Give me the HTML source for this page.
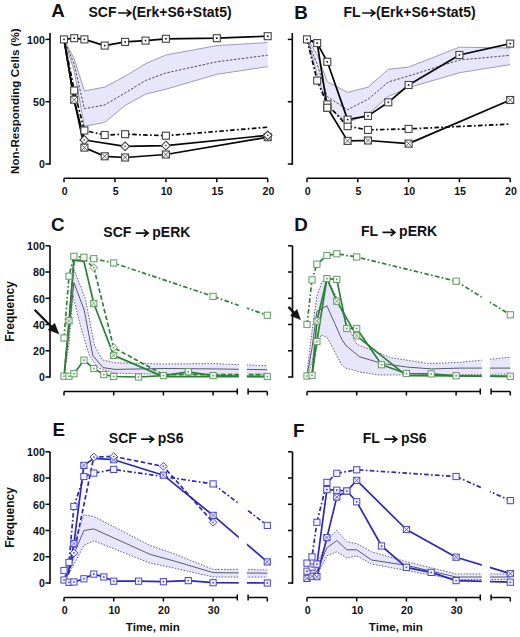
<!DOCTYPE html><html><head><meta charset="utf-8"><style>html,body{margin:0;padding:0;background:#fff;width:520px;height:637px;overflow:hidden;position:relative}</style></head><body><svg width="520" height="637" viewBox="0 0 520 637" style="position:absolute;left:0;top:0;font-family:'Liberation Sans', sans-serif">
<rect width="520" height="637" fill="#fff"/>
<path d="M64.0,39.4 L74.2,58.8 L84.4,91.0 L104.7,87.1 L125.1,76.3 L145.5,63.8 L165.9,55.0 L216.8,45.6 L267.7,42.6 L267.7,66.6 L216.8,74.3 L165.9,89.2 L145.5,94.2 L125.1,105.4 L104.7,122.4 L84.4,126.2 L74.2,70.5 L64.0,39.4 Z" fill="#e7e6fb" stroke="none"/>
<path d="M64.0,39.4 L74.2,58.8 L84.4,91.0 L104.7,87.1 L125.1,76.3 L145.5,63.8 L165.9,55.0 L216.8,45.6 L267.7,42.6" fill="none" stroke="#9c9cb4" stroke-width="1.0" stroke-linejoin="round" />
<path d="M64.0,39.4 L74.2,70.5 L84.4,126.2 L104.7,122.4 L125.1,105.4 L145.5,94.2 L165.9,89.2 L216.8,74.3 L267.7,66.6" fill="none" stroke="#9c9cb4" stroke-width="1.0" stroke-linejoin="round" />
<path d="M64.0,39.4 L74.2,64.3 L84.4,108.8 L104.7,104.9 L125.1,93.0 L145.5,80.5 L165.9,73.0 L216.8,61.8 L267.7,55.2" fill="none" stroke="#4a4a5a" stroke-width="1.0" stroke-dasharray="2.4,1.6" stroke-linejoin="round" />
<path d="M50.0,33 L50.0,164.8" stroke="#050505" stroke-width="1.6" fill="none"/>
<path d="M45.5,164.0 L50.0,164.0" stroke="#050505" stroke-width="1.5"/>
<text x="44.8" y="168.3" font-size="10.6" font-weight="bold" text-anchor="end" fill="#111" >0</text>
<path d="M45.5,101.7 L50.0,101.7" stroke="#050505" stroke-width="1.5"/>
<text x="44.8" y="106.0" font-size="10.6" font-weight="bold" text-anchor="end" fill="#111" >50</text>
<path d="M45.5,39.4 L50.0,39.4" stroke="#050505" stroke-width="1.5"/>
<text x="44.8" y="43.7" font-size="10.6" font-weight="bold" text-anchor="end" fill="#111" >100</text>
<path d="M64.0,178.3 L267.7,178.3" stroke="#050505" stroke-width="1.6" fill="none"/>
<path d="M64.0,178.3 L64.0,182.3" stroke="#050505" stroke-width="1.5"/>
<text x="64.7" y="194.9" font-size="10.6" font-weight="bold" text-anchor="middle" fill="#111" >0</text>
<path d="M114.9,178.3 L114.9,182.3" stroke="#050505" stroke-width="1.5"/>
<text x="115.6" y="194.9" font-size="10.6" font-weight="bold" text-anchor="middle" fill="#111" >5</text>
<path d="M165.9,178.3 L165.9,182.3" stroke="#050505" stroke-width="1.5"/>
<text x="166.6" y="194.9" font-size="10.6" font-weight="bold" text-anchor="middle" fill="#111" >10</text>
<path d="M216.8,178.3 L216.8,182.3" stroke="#050505" stroke-width="1.5"/>
<text x="217.5" y="194.9" font-size="10.6" font-weight="bold" text-anchor="middle" fill="#111" >15</text>
<path d="M267.7,178.3 L267.7,182.3" stroke="#050505" stroke-width="1.5"/>
<text x="268.4" y="194.9" font-size="10.6" font-weight="bold" text-anchor="middle" fill="#111" >20</text>
<path d="M64.0,39.4 L74.2,99.7 L84.4,147.6 L104.7,156.3 L125.1,157.5 L165.9,154.5 L267.7,137.2" fill="none" stroke="#050505" stroke-width="1.7" stroke-linejoin="round" />
<path d="M64.0,39.4 L74.2,100.5 L84.4,140.0 L125.1,146.3 L165.9,145.6 L267.7,135.3" fill="none" stroke="#050505" stroke-width="1.7" stroke-linejoin="round" />
<path d="M64.0,39.4 L74.2,90.5 L84.4,130.5 L104.7,135.0 L125.1,134.2 L165.9,135.7 L267.7,127.2" fill="none" stroke="#050505" stroke-width="1.7" stroke-dasharray="4.6,2.3,1.7,2.3" stroke-linejoin="round" />
<path d="M64.0,39.4 L74.2,38.2 L84.4,39.4 L104.7,45.6 L125.1,41.9 L145.5,40.6 L165.9,38.8 L216.8,38.2 L267.7,36.2" fill="none" stroke="#050505" stroke-width="1.7" stroke-linejoin="round" />
<rect x="70.7" y="96.2" width="7.0" height="7.0" fill="#fff" stroke="#444" stroke-width="1.1"/>
<path d="M70.7,96.2 L77.7,103.2 M77.7,96.2 L70.7,103.2" stroke="#444" stroke-width="0.8"/>
<rect x="80.9" y="144.1" width="7.0" height="7.0" fill="#fff" stroke="#444" stroke-width="1.1"/>
<path d="M80.9,144.1 L87.9,151.1 M87.9,144.1 L80.9,151.1" stroke="#444" stroke-width="0.8"/>
<rect x="101.2" y="152.8" width="7.0" height="7.0" fill="#fff" stroke="#444" stroke-width="1.1"/>
<path d="M101.2,152.8 L108.2,159.8 M108.2,152.8 L101.2,159.8" stroke="#444" stroke-width="0.8"/>
<rect x="121.6" y="154.0" width="7.0" height="7.0" fill="#fff" stroke="#444" stroke-width="1.1"/>
<path d="M121.6,154.0 L128.6,161.0 M128.6,154.0 L121.6,161.0" stroke="#444" stroke-width="0.8"/>
<rect x="162.4" y="151.0" width="7.0" height="7.0" fill="#fff" stroke="#444" stroke-width="1.1"/>
<path d="M162.4,151.0 L169.4,158.0 M169.4,151.0 L162.4,158.0" stroke="#444" stroke-width="0.8"/>
<rect x="264.2" y="133.7" width="7.0" height="7.0" fill="#fff" stroke="#444" stroke-width="1.1"/>
<path d="M264.2,133.7 L271.2,140.7 M271.2,133.7 L264.2,140.7" stroke="#444" stroke-width="0.8"/>
<path d="M84.4,135.6 L88.7,140.0 L84.4,144.3 L80.0,140.0 Z" fill="#fff" stroke="#444" stroke-width="1.1"/>
<rect x="83.6" y="139.2" width="1.5" height="1.5" fill="#444"/>
<path d="M125.1,142.0 L129.4,146.3 L125.1,150.6 L120.8,146.3 Z" fill="#fff" stroke="#444" stroke-width="1.1"/>
<rect x="124.4" y="145.6" width="1.5" height="1.5" fill="#444"/>
<path d="M165.9,141.2 L170.2,145.6 L165.9,149.9 L161.5,145.6 Z" fill="#fff" stroke="#444" stroke-width="1.1"/>
<rect x="165.1" y="144.8" width="1.5" height="1.5" fill="#444"/>
<path d="M267.7,131.0 L272.0,135.3 L267.7,139.7 L263.4,135.3 Z" fill="#fff" stroke="#444" stroke-width="1.1"/>
<rect x="267.0" y="134.6" width="1.5" height="1.5" fill="#444"/>
<rect x="70.7" y="87.0" width="7.0" height="7.0" fill="#fff" stroke="#444" stroke-width="1.1"/>
<rect x="80.9" y="127.0" width="7.0" height="7.0" fill="#fff" stroke="#444" stroke-width="1.1"/>
<rect x="101.2" y="131.5" width="7.0" height="7.0" fill="#fff" stroke="#444" stroke-width="1.1"/>
<rect x="121.6" y="130.7" width="7.0" height="7.0" fill="#fff" stroke="#444" stroke-width="1.1"/>
<rect x="162.4" y="132.2" width="7.0" height="7.0" fill="#fff" stroke="#444" stroke-width="1.1"/>
<rect x="60.5" y="35.9" width="7.0" height="7.0" fill="#fff" stroke="#444" stroke-width="1.1"/>
<rect x="63.2" y="38.6" width="1.6" height="1.6" fill="#111"/>
<rect x="70.7" y="34.7" width="7.0" height="7.0" fill="#fff" stroke="#444" stroke-width="1.1"/>
<rect x="73.4" y="37.4" width="1.6" height="1.6" fill="#111"/>
<rect x="80.9" y="35.9" width="7.0" height="7.0" fill="#fff" stroke="#444" stroke-width="1.1"/>
<rect x="83.6" y="38.6" width="1.6" height="1.6" fill="#111"/>
<rect x="101.2" y="42.1" width="7.0" height="7.0" fill="#fff" stroke="#444" stroke-width="1.1"/>
<rect x="103.9" y="44.8" width="1.6" height="1.6" fill="#111"/>
<rect x="121.6" y="38.4" width="7.0" height="7.0" fill="#fff" stroke="#444" stroke-width="1.1"/>
<rect x="124.3" y="41.1" width="1.6" height="1.6" fill="#111"/>
<rect x="142.0" y="37.1" width="7.0" height="7.0" fill="#fff" stroke="#444" stroke-width="1.1"/>
<rect x="144.7" y="39.8" width="1.6" height="1.6" fill="#111"/>
<rect x="162.4" y="35.3" width="7.0" height="7.0" fill="#fff" stroke="#444" stroke-width="1.1"/>
<rect x="165.1" y="38.0" width="1.6" height="1.6" fill="#111"/>
<rect x="213.3" y="34.7" width="7.0" height="7.0" fill="#fff" stroke="#444" stroke-width="1.1"/>
<rect x="216.0" y="37.4" width="1.6" height="1.6" fill="#111"/>
<rect x="264.2" y="32.7" width="7.0" height="7.0" fill="#fff" stroke="#444" stroke-width="1.1"/>
<rect x="266.9" y="35.4" width="1.6" height="1.6" fill="#111"/>
<text x="51.3" y="17.3" font-size="18.8" font-weight="bold" text-anchor="start" fill="#111" >A</text>
<text x="88.5" y="16.9" font-size="14" font-weight="bold" text-anchor="start" fill="#111" >SCF</text>
<path d="M118.2,13.0 H130.1 M126.6,9.6 L130.9,13.0 L126.6,16.4" stroke="#111" stroke-width="1.7" fill="none"/>
<text x="132.1" y="16.9" font-size="14" font-weight="bold" text-anchor="start" fill="#111" >(Erk+S6+Stat5)</text>
<text x="19.3" y="101.2" font-size="11.6" font-weight="bold" text-anchor="middle" fill="#111" transform="rotate(-90 19.3 101.2)">Non-Responding Cells (%)</text>
<path d="M307.0,39.4 L317.2,54.4 L327.3,81.8 L347.6,92.4 L368.0,87.2 L388.3,69.3 L408.6,67.1 L459.4,47.2 L510.2,48.0 L510.2,64.6 L459.4,72.7 L408.6,87.7 L388.3,96.5 L368.0,114.3 L347.6,122.4 L327.3,106.7 L317.2,74.3 L307.0,39.4 Z" fill="#e7e6fb" stroke="none"/>
<path d="M307.0,39.4 L317.2,54.4 L327.3,81.8 L347.6,92.4 L368.0,87.2 L388.3,69.3 L408.6,67.1 L459.4,47.2 L510.2,48.0" fill="none" stroke="#9c9cb4" stroke-width="1.0" stroke-linejoin="round" />
<path d="M307.0,39.4 L317.2,74.3 L327.3,106.7 L347.6,122.4 L368.0,114.3 L388.3,96.5 L408.6,87.7 L459.4,72.7 L510.2,64.6" fill="none" stroke="#9c9cb4" stroke-width="1.0" stroke-linejoin="round" />
<path d="M307.0,39.4 L317.2,64.3 L327.3,96.7 L347.6,109.7 L368.0,99.3 L388.3,82.0 L408.6,76.0 L459.4,60.0 L510.2,55.3" fill="none" stroke="#4a4a5a" stroke-width="1.0" stroke-dasharray="2.4,1.6" stroke-linejoin="round" />
<path d="M292.3,33 L292.3,164.8" stroke="#050505" stroke-width="1.6" fill="none"/>
<path d="M287.8,164.0 L292.3,164.0" stroke="#050505" stroke-width="1.5"/>
<path d="M287.8,101.7 L292.3,101.7" stroke="#050505" stroke-width="1.5"/>
<path d="M287.8,39.4 L292.3,39.4" stroke="#050505" stroke-width="1.5"/>
<path d="M307.0,178.3 L510.2,178.3" stroke="#050505" stroke-width="1.6" fill="none"/>
<path d="M307.0,178.3 L307.0,182.3" stroke="#050505" stroke-width="1.5"/>
<text x="307.7" y="194.9" font-size="10.6" font-weight="bold" text-anchor="middle" fill="#111" >0</text>
<path d="M357.8,178.3 L357.8,182.3" stroke="#050505" stroke-width="1.5"/>
<text x="358.5" y="194.9" font-size="10.6" font-weight="bold" text-anchor="middle" fill="#111" >5</text>
<path d="M408.6,178.3 L408.6,182.3" stroke="#050505" stroke-width="1.5"/>
<text x="409.3" y="194.9" font-size="10.6" font-weight="bold" text-anchor="middle" fill="#111" >10</text>
<path d="M459.4,178.3 L459.4,182.3" stroke="#050505" stroke-width="1.5"/>
<text x="460.1" y="194.9" font-size="10.6" font-weight="bold" text-anchor="middle" fill="#111" >15</text>
<path d="M510.2,178.3 L510.2,182.3" stroke="#050505" stroke-width="1.5"/>
<text x="510.9" y="194.9" font-size="10.6" font-weight="bold" text-anchor="middle" fill="#111" >20</text>
<path d="M307.0,39.4 L317.2,43.1 L327.3,107.7 L347.6,140.9 L368.0,140.5 L408.6,143.6 L510.2,100.0" fill="none" stroke="#050505" stroke-width="1.7" stroke-linejoin="round" />
<path d="M307.0,39.4 L317.2,80.6 L327.3,104.4 L347.6,126.2 L368.0,129.9 L408.6,128.9 L510.2,124.1" fill="none" stroke="#050505" stroke-width="1.7" stroke-dasharray="4.6,2.3,1.7,2.3" stroke-linejoin="round" />
<path d="M307.0,39.4 L317.2,43.1 L327.3,61.8 L347.6,119.6 L368.0,115.9 L388.3,102.3 L408.6,85.0 L459.4,55.0 L510.2,43.6" fill="none" stroke="#050505" stroke-width="1.7" stroke-linejoin="round" />
<rect x="323.8" y="104.2" width="7.0" height="7.0" fill="#fff" stroke="#444" stroke-width="1.1"/>
<path d="M323.8,104.2 L330.8,111.2 M330.8,104.2 L323.8,111.2" stroke="#444" stroke-width="0.8"/>
<rect x="344.1" y="137.4" width="7.0" height="7.0" fill="#fff" stroke="#444" stroke-width="1.1"/>
<path d="M344.1,137.4 L351.1,144.4 M351.1,137.4 L344.1,144.4" stroke="#444" stroke-width="0.8"/>
<rect x="364.5" y="137.0" width="7.0" height="7.0" fill="#fff" stroke="#444" stroke-width="1.1"/>
<path d="M364.5,137.0 L371.5,144.0 M371.5,137.0 L364.5,144.0" stroke="#444" stroke-width="0.8"/>
<rect x="405.1" y="140.1" width="7.0" height="7.0" fill="#fff" stroke="#444" stroke-width="1.1"/>
<path d="M405.1,140.1 L412.1,147.1 M412.1,140.1 L405.1,147.1" stroke="#444" stroke-width="0.8"/>
<rect x="506.7" y="96.5" width="7.0" height="7.0" fill="#fff" stroke="#444" stroke-width="1.1"/>
<path d="M506.7,96.5 L513.7,103.5 M513.7,96.5 L506.7,103.5" stroke="#444" stroke-width="0.8"/>
<rect x="313.7" y="77.1" width="7.0" height="7.0" fill="#fff" stroke="#444" stroke-width="1.1"/>
<rect x="323.8" y="100.9" width="7.0" height="7.0" fill="#fff" stroke="#444" stroke-width="1.1"/>
<rect x="344.1" y="122.7" width="7.0" height="7.0" fill="#fff" stroke="#444" stroke-width="1.1"/>
<rect x="364.5" y="126.4" width="7.0" height="7.0" fill="#fff" stroke="#444" stroke-width="1.1"/>
<rect x="405.1" y="125.4" width="7.0" height="7.0" fill="#fff" stroke="#444" stroke-width="1.1"/>
<rect x="323.8" y="104.2" width="7.0" height="7.0" fill="#fff" stroke="#444" stroke-width="1.1"/>
<rect x="303.5" y="35.9" width="7.0" height="7.0" fill="#fff" stroke="#444" stroke-width="1.1"/>
<rect x="306.2" y="38.6" width="1.6" height="1.6" fill="#111"/>
<rect x="313.7" y="39.6" width="7.0" height="7.0" fill="#fff" stroke="#444" stroke-width="1.1"/>
<rect x="316.4" y="42.3" width="1.6" height="1.6" fill="#111"/>
<rect x="323.8" y="58.3" width="7.0" height="7.0" fill="#fff" stroke="#444" stroke-width="1.1"/>
<rect x="326.5" y="61.0" width="1.6" height="1.6" fill="#111"/>
<rect x="344.1" y="116.1" width="7.0" height="7.0" fill="#fff" stroke="#444" stroke-width="1.1"/>
<rect x="346.8" y="118.8" width="1.6" height="1.6" fill="#111"/>
<rect x="364.5" y="112.4" width="7.0" height="7.0" fill="#fff" stroke="#444" stroke-width="1.1"/>
<rect x="367.2" y="115.1" width="1.6" height="1.6" fill="#111"/>
<rect x="384.8" y="98.8" width="7.0" height="7.0" fill="#fff" stroke="#444" stroke-width="1.1"/>
<rect x="387.5" y="101.5" width="1.6" height="1.6" fill="#111"/>
<rect x="405.1" y="81.5" width="7.0" height="7.0" fill="#fff" stroke="#444" stroke-width="1.1"/>
<rect x="407.8" y="84.2" width="1.6" height="1.6" fill="#111"/>
<rect x="455.9" y="51.5" width="7.0" height="7.0" fill="#fff" stroke="#444" stroke-width="1.1"/>
<rect x="458.6" y="54.2" width="1.6" height="1.6" fill="#111"/>
<rect x="506.7" y="40.1" width="7.0" height="7.0" fill="#fff" stroke="#444" stroke-width="1.1"/>
<rect x="509.4" y="42.8" width="1.6" height="1.6" fill="#111"/>
<text x="294.3" y="18.8" font-size="18.8" font-weight="bold" text-anchor="start" fill="#111" >B</text>
<text x="343.4" y="16.9" font-size="14" font-weight="bold" text-anchor="start" fill="#111" >FL</text>
<path d="M362.2,13.0 H374.1 M370.6,9.6 L374.9,13.0 L370.6,16.4" stroke="#111" stroke-width="1.7" fill="none"/>
<text x="376.1" y="16.9" font-size="14" font-weight="bold" text-anchor="start" fill="#111" >(Erk+S6+Stat5)</text>
<clipPath id="cC"><rect x="0" y="230" width="238.8" height="156"/><rect x="246.9" y="230" width="100" height="156"/></clipPath>
<g clip-path="url(#cC)">
<path d="M64.0,377.0 L69.0,324.5 L73.9,269.4 L85.2,298.3 L94.6,345.8 L102.3,359.9 L115.2,362.8 L163.4,364.0 L213.1,363.6 L267.3,365.8 L267.3,374.1 L213.1,374.2 L163.4,374.2 L115.2,373.2 L97.5,367.6 L89.2,355.0 L85.0,341.3 L79.3,321.5 L72.9,294.9 L69.0,344.2 L64.0,377.0 Z" fill="#e7e6fb" stroke="none"/>
<path d="M64.0,377.0 L69.0,324.5 L73.9,269.4 L85.2,298.3 L94.6,345.8 L102.3,359.9 L115.2,362.8 L163.4,364.0 L213.1,363.6 L267.3,365.8" fill="none" stroke="#6a6a80" stroke-width="1.0" stroke-dasharray="1.6,1.4" stroke-linejoin="round" />
<path d="M64.0,377.0 L69.0,344.2 L72.9,294.9 L79.3,321.5 L85.0,341.3 L89.2,355.0 L97.5,367.6 L115.2,373.2 L163.4,374.2 L213.1,374.2 L267.3,374.1" fill="none" stroke="#6a6a80" stroke-width="1.0" stroke-dasharray="1.6,1.4" stroke-linejoin="round" />
<path d="M64.0,377.0 L69.0,331.1 L73.9,282.5 L84.2,310.1 L92.8,355.4 L103.0,367.6 L115.2,369.4 L163.4,368.5 L213.1,368.9 L267.3,369.7" fill="none" stroke="#5a5a70" stroke-width="1.0" stroke-linejoin="round" />
<path d="M64.0,376.2 L69.0,376.2 L73.9,373.7 L83.9,360.2 L93.8,368.5 L103.8,374.6 L113.7,376.5 L138.6,377.0 L163.4,375.6 L188.2,371.8 L213.1,375.6 L267.3,376.5" fill="none" stroke="#2b8237" stroke-width="1.7" stroke-linejoin="round" />
<path d="M64.0,377.0 L69.0,320.8 L73.9,260.2 L83.9,261.5 L93.8,303.5 L113.7,355.4 L163.4,376.6 L213.1,376.6 L267.3,376.6" fill="none" stroke="#2b8237" stroke-width="1.7" stroke-linejoin="round" />
<path d="M64.0,377.0 L69.0,324.5 L73.9,261.5 L83.9,258.9 L93.8,267.6 L113.7,347.7 L163.4,374.6 L213.1,374.6 L267.3,374.6" fill="none" stroke="#2b8237" stroke-width="1.7" stroke-dasharray="4.5,2.5" stroke-linejoin="round" />
<path d="M64.0,338.0 L69.0,276.2 L73.9,256.3 L83.9,257.3 L93.8,258.7 L113.7,263.0 L213.1,296.4 L267.3,315.3" fill="none" stroke="#2b8237" stroke-width="1.7" stroke-dasharray="4.6,2.3,1.7,2.3" stroke-linejoin="round" />
</g>
<rect x="60.9" y="373.1" width="6.2" height="6.2" fill="#f3fbf3" stroke="#679a67" stroke-width="1.0"/>
<rect x="63.2" y="375.4" width="1.6" height="1.6" fill="#679a67"/>
<rect x="65.9" y="373.1" width="6.2" height="6.2" fill="#f3fbf3" stroke="#679a67" stroke-width="1.0"/>
<rect x="68.2" y="375.4" width="1.6" height="1.6" fill="#679a67"/>
<rect x="70.8" y="370.6" width="6.2" height="6.2" fill="#f3fbf3" stroke="#679a67" stroke-width="1.0"/>
<rect x="73.1" y="372.9" width="1.6" height="1.6" fill="#679a67"/>
<rect x="80.8" y="357.1" width="6.2" height="6.2" fill="#f3fbf3" stroke="#679a67" stroke-width="1.0"/>
<rect x="83.1" y="359.4" width="1.6" height="1.6" fill="#679a67"/>
<rect x="90.7" y="365.4" width="6.2" height="6.2" fill="#f3fbf3" stroke="#679a67" stroke-width="1.0"/>
<rect x="93.0" y="367.7" width="1.6" height="1.6" fill="#679a67"/>
<rect x="100.7" y="371.5" width="6.2" height="6.2" fill="#f3fbf3" stroke="#679a67" stroke-width="1.0"/>
<rect x="103.0" y="373.8" width="1.6" height="1.6" fill="#679a67"/>
<rect x="110.6" y="373.4" width="6.2" height="6.2" fill="#f3fbf3" stroke="#679a67" stroke-width="1.0"/>
<rect x="112.9" y="375.7" width="1.6" height="1.6" fill="#679a67"/>
<rect x="135.5" y="373.9" width="6.2" height="6.2" fill="#f3fbf3" stroke="#679a67" stroke-width="1.0"/>
<rect x="137.8" y="376.2" width="1.6" height="1.6" fill="#679a67"/>
<rect x="160.3" y="372.5" width="6.2" height="6.2" fill="#f3fbf3" stroke="#679a67" stroke-width="1.0"/>
<rect x="162.6" y="374.8" width="1.6" height="1.6" fill="#679a67"/>
<rect x="185.2" y="368.7" width="6.2" height="6.2" fill="#f3fbf3" stroke="#679a67" stroke-width="1.0"/>
<rect x="187.4" y="371.0" width="1.6" height="1.6" fill="#679a67"/>
<rect x="210.0" y="372.5" width="6.2" height="6.2" fill="#f3fbf3" stroke="#679a67" stroke-width="1.0"/>
<rect x="212.3" y="374.8" width="1.6" height="1.6" fill="#679a67"/>
<rect x="264.2" y="373.4" width="6.2" height="6.2" fill="#f3fbf3" stroke="#679a67" stroke-width="1.0"/>
<rect x="266.5" y="375.7" width="1.6" height="1.6" fill="#679a67"/>
<rect x="65.9" y="317.7" width="6.2" height="6.2" fill="#f3fbf3" stroke="#679a67" stroke-width="1.0"/>
<path d="M65.9,317.7 L72.1,323.9 M72.1,317.7 L65.9,323.9" stroke="#679a67" stroke-width="0.8"/>
<rect x="90.7" y="300.4" width="6.2" height="6.2" fill="#f3fbf3" stroke="#679a67" stroke-width="1.0"/>
<path d="M90.7,300.4 L96.9,306.6 M96.9,300.4 L90.7,306.6" stroke="#679a67" stroke-width="0.8"/>
<rect x="110.6" y="352.3" width="6.2" height="6.2" fill="#f3fbf3" stroke="#679a67" stroke-width="1.0"/>
<path d="M110.6,352.3 L116.8,358.5 M116.8,352.3 L110.6,358.5" stroke="#679a67" stroke-width="0.8"/>
<path d="M93.8,263.7 L97.7,267.6 L93.8,271.4 L90.0,267.6 Z" fill="#f3fbf3" stroke="#679a67" stroke-width="1.0"/>
<rect x="93.1" y="266.8" width="1.5" height="1.5" fill="#679a67"/>
<path d="M113.7,343.9 L117.5,347.7 L113.7,351.6 L109.9,347.7 Z" fill="#f3fbf3" stroke="#679a67" stroke-width="1.0"/>
<rect x="112.9" y="347.0" width="1.5" height="1.5" fill="#679a67"/>
<rect x="60.9" y="334.9" width="6.2" height="6.2" fill="#f3fbf3" stroke="#679a67" stroke-width="1.0"/>
<rect x="65.9" y="273.1" width="6.2" height="6.2" fill="#f3fbf3" stroke="#679a67" stroke-width="1.0"/>
<rect x="70.8" y="253.2" width="6.2" height="6.2" fill="#f3fbf3" stroke="#679a67" stroke-width="1.0"/>
<rect x="80.8" y="254.2" width="6.2" height="6.2" fill="#f3fbf3" stroke="#679a67" stroke-width="1.0"/>
<rect x="90.7" y="255.6" width="6.2" height="6.2" fill="#f3fbf3" stroke="#679a67" stroke-width="1.0"/>
<rect x="110.6" y="259.9" width="6.2" height="6.2" fill="#f3fbf3" stroke="#679a67" stroke-width="1.0"/>
<rect x="210.0" y="293.3" width="6.2" height="6.2" fill="#f3fbf3" stroke="#679a67" stroke-width="1.0"/>
<rect x="264.2" y="312.2" width="6.2" height="6.2" fill="#f3fbf3" stroke="#679a67" stroke-width="1.0"/>
<path d="M50.0,245.8 L50.0,377.8" stroke="#050505" stroke-width="1.6" fill="none"/>
<path d="M45.5,377.0 L50.0,377.0" stroke="#050505" stroke-width="1.5"/>
<text x="44.8" y="381.3" font-size="10.6" font-weight="bold" text-anchor="end" fill="#111" >0</text>
<path d="M45.5,350.8 L50.0,350.8" stroke="#050505" stroke-width="1.5"/>
<text x="44.8" y="355.1" font-size="10.6" font-weight="bold" text-anchor="end" fill="#111" >20</text>
<path d="M45.5,324.5 L50.0,324.5" stroke="#050505" stroke-width="1.5"/>
<text x="44.8" y="328.8" font-size="10.6" font-weight="bold" text-anchor="end" fill="#111" >40</text>
<path d="M45.5,298.3 L50.0,298.3" stroke="#050505" stroke-width="1.5"/>
<text x="44.8" y="302.6" font-size="10.6" font-weight="bold" text-anchor="end" fill="#111" >60</text>
<path d="M45.5,272.0 L50.0,272.0" stroke="#050505" stroke-width="1.5"/>
<text x="44.8" y="276.3" font-size="10.6" font-weight="bold" text-anchor="end" fill="#111" >80</text>
<path d="M45.5,245.8 L50.0,245.8" stroke="#050505" stroke-width="1.5"/>
<text x="44.8" y="250.1" font-size="10.6" font-weight="bold" text-anchor="end" fill="#111" >100</text>
<path d="M64.0,391.5 L237.3,391.5 M248.1,391.5 L267.3,391.5" stroke="#050505" stroke-width="1.6" fill="none"/>
<path d="M64.0,391.5 L64.0,395.5" stroke="#050505" stroke-width="1.5"/>
<path d="M113.7,391.5 L113.7,395.5" stroke="#050505" stroke-width="1.5"/>
<path d="M163.4,391.5 L163.4,395.5" stroke="#050505" stroke-width="1.5"/>
<path d="M213.1,391.5 L213.1,395.5" stroke="#050505" stroke-width="1.5"/>
<path d="M237.3,388.5 L237.3,394.5 M248.1,388.5 L248.1,394.5 M267.3,391.5 L267.3,395.5" stroke="#050505" stroke-width="1.5"/>
<text x="51.0" y="230.5" font-size="18.8" font-weight="bold" text-anchor="start" fill="#111" >C</text>
<text x="103.3" y="237.0" font-size="14" font-weight="bold" text-anchor="start" fill="#111" >SCF</text>
<path d="M135.7,233.1 H147.3 M143.8,229.7 L148.1,233.1 L143.8,236.5" stroke="#111" stroke-width="1.7" fill="none"/>
<text x="152.3" y="237.0" font-size="14" font-weight="bold" text-anchor="start" fill="#111" >pERK</text>
<path d="M34.6,309.8 L52,327.3" stroke="#111" stroke-width="2.3"/>
<path d="M58.8,333.8 L54.6,323.2 L48.2,329.8 Z" fill="#111" stroke="#111" stroke-width="0.6" stroke-linejoin="round"/>
<text x="13.8" y="311.4" font-size="12" font-weight="bold" text-anchor="middle" fill="#111" transform="rotate(-90 13.8 311.4)">Frequency</text>
<clipPath id="cD"><rect x="0" y="230" width="481.8" height="156"/><rect x="489.9" y="230" width="100" height="156"/></clipPath>
<g clip-path="url(#cD)">
<path d="M307.0,373.1 L312.0,331.1 L316.9,295.7 L321.9,282.5 L326.9,277.3 L336.8,298.0 L346.8,324.5 L356.7,344.2 L391.0,357.7 L427.8,363.5 L460.1,362.4 L510.3,357.2 L510.3,374.1 L456.1,374.6 L379.1,375.0 L359.7,371.9 L345.8,368.1 L341.8,364.9 L326.9,337.2 L320.9,335.0 L312.0,362.0 L307.0,377.0 Z" fill="#e7e6fb" stroke="none"/>
<path d="M307.0,373.1 L312.0,331.1 L316.9,295.7 L321.9,282.5 L326.9,277.3 L336.8,298.0 L346.8,324.5 L356.7,344.2 L391.0,357.7 L427.8,363.5 L460.1,362.4 L510.3,357.2" fill="none" stroke="#6a6a80" stroke-width="1.0" stroke-dasharray="1.6,1.4" stroke-linejoin="round" />
<path d="M307.0,377.0 L312.0,362.0 L320.9,335.0 L326.9,337.2 L341.8,364.9 L345.8,368.1 L359.7,371.9 L379.1,375.0 L456.1,374.6 L510.3,374.1" fill="none" stroke="#6a6a80" stroke-width="1.0" stroke-dasharray="1.6,1.4" stroke-linejoin="round" />
<path d="M307.0,375.7 L312.0,348.1 L316.9,311.4 L326.9,305.8 L341.8,339.3 L345.8,345.5 L359.7,356.8 L381.6,363.4 L406.4,367.0 L431.2,368.9 L460.1,368.1 L510.3,368.1" fill="none" stroke="#5a5a70" stroke-width="1.0" stroke-linejoin="round" />
<path d="M307.0,376.0 L312.0,375.3 L316.9,321.0 L326.9,278.6 L336.8,301.2 L356.7,335.8 L406.4,375.7 L456.1,375.8 L510.3,376.3" fill="none" stroke="#2b8237" stroke-width="1.7" stroke-linejoin="round" />
<path d="M307.0,376.0 L312.0,375.3 L316.9,341.6 L326.9,278.6 L336.8,279.4 L346.8,328.5 L356.7,328.5 L381.6,364.7 L406.4,373.5 L431.2,373.9 L456.1,375.8 L510.3,376.3" fill="none" stroke="#2b8237" stroke-width="1.7" stroke-linejoin="round" />
<path d="M307.0,324.5 L312.0,279.9 L316.9,264.2 L326.9,255.5 L336.8,253.8 L356.7,257.0 L456.1,281.2 L510.3,314.8" fill="none" stroke="#2b8237" stroke-width="1.7" stroke-dasharray="4.6,2.3,1.7,2.3" stroke-linejoin="round" />
</g>
<rect x="313.8" y="317.9" width="6.2" height="6.2" fill="#f3fbf3" stroke="#679a67" stroke-width="1.0"/>
<path d="M313.8,317.9 L320.0,324.1 M320.0,317.9 L313.8,324.1" stroke="#679a67" stroke-width="0.8"/>
<rect x="333.7" y="298.1" width="6.2" height="6.2" fill="#f3fbf3" stroke="#679a67" stroke-width="1.0"/>
<path d="M333.7,298.1 L339.9,304.3 M339.9,298.1 L333.7,304.3" stroke="#679a67" stroke-width="0.8"/>
<rect x="353.6" y="332.7" width="6.2" height="6.2" fill="#f3fbf3" stroke="#679a67" stroke-width="1.0"/>
<path d="M353.6,332.7 L359.8,338.9 M359.8,332.7 L353.6,338.9" stroke="#679a67" stroke-width="0.8"/>
<rect x="303.9" y="372.9" width="6.2" height="6.2" fill="#f3fbf3" stroke="#679a67" stroke-width="1.0"/>
<rect x="306.2" y="375.2" width="1.6" height="1.6" fill="#679a67"/>
<rect x="308.9" y="372.2" width="6.2" height="6.2" fill="#f3fbf3" stroke="#679a67" stroke-width="1.0"/>
<rect x="311.2" y="374.5" width="1.6" height="1.6" fill="#679a67"/>
<rect x="313.8" y="338.5" width="6.2" height="6.2" fill="#f3fbf3" stroke="#679a67" stroke-width="1.0"/>
<rect x="316.1" y="340.8" width="1.6" height="1.6" fill="#679a67"/>
<rect x="323.8" y="275.5" width="6.2" height="6.2" fill="#f3fbf3" stroke="#679a67" stroke-width="1.0"/>
<rect x="326.1" y="277.8" width="1.6" height="1.6" fill="#679a67"/>
<rect x="333.7" y="276.3" width="6.2" height="6.2" fill="#f3fbf3" stroke="#679a67" stroke-width="1.0"/>
<rect x="336.0" y="278.6" width="1.6" height="1.6" fill="#679a67"/>
<rect x="343.7" y="325.4" width="6.2" height="6.2" fill="#f3fbf3" stroke="#679a67" stroke-width="1.0"/>
<rect x="346.0" y="327.7" width="1.6" height="1.6" fill="#679a67"/>
<rect x="353.6" y="325.4" width="6.2" height="6.2" fill="#f3fbf3" stroke="#679a67" stroke-width="1.0"/>
<rect x="355.9" y="327.7" width="1.6" height="1.6" fill="#679a67"/>
<rect x="378.4" y="361.6" width="6.2" height="6.2" fill="#f3fbf3" stroke="#679a67" stroke-width="1.0"/>
<rect x="380.8" y="363.9" width="1.6" height="1.6" fill="#679a67"/>
<rect x="403.3" y="370.4" width="6.2" height="6.2" fill="#f3fbf3" stroke="#679a67" stroke-width="1.0"/>
<rect x="405.6" y="372.7" width="1.6" height="1.6" fill="#679a67"/>
<rect x="428.1" y="370.8" width="6.2" height="6.2" fill="#f3fbf3" stroke="#679a67" stroke-width="1.0"/>
<rect x="430.4" y="373.1" width="1.6" height="1.6" fill="#679a67"/>
<rect x="453.0" y="372.7" width="6.2" height="6.2" fill="#f3fbf3" stroke="#679a67" stroke-width="1.0"/>
<rect x="455.3" y="375.0" width="1.6" height="1.6" fill="#679a67"/>
<rect x="507.2" y="373.2" width="6.2" height="6.2" fill="#f3fbf3" stroke="#679a67" stroke-width="1.0"/>
<rect x="509.5" y="375.5" width="1.6" height="1.6" fill="#679a67"/>
<rect x="303.9" y="321.4" width="6.2" height="6.2" fill="#f3fbf3" stroke="#679a67" stroke-width="1.0"/>
<rect x="308.9" y="276.8" width="6.2" height="6.2" fill="#f3fbf3" stroke="#679a67" stroke-width="1.0"/>
<rect x="313.8" y="261.1" width="6.2" height="6.2" fill="#f3fbf3" stroke="#679a67" stroke-width="1.0"/>
<rect x="323.8" y="252.4" width="6.2" height="6.2" fill="#f3fbf3" stroke="#679a67" stroke-width="1.0"/>
<rect x="333.7" y="250.7" width="6.2" height="6.2" fill="#f3fbf3" stroke="#679a67" stroke-width="1.0"/>
<rect x="353.6" y="253.9" width="6.2" height="6.2" fill="#f3fbf3" stroke="#679a67" stroke-width="1.0"/>
<rect x="453.0" y="278.1" width="6.2" height="6.2" fill="#f3fbf3" stroke="#679a67" stroke-width="1.0"/>
<rect x="507.2" y="311.7" width="6.2" height="6.2" fill="#f3fbf3" stroke="#679a67" stroke-width="1.0"/>
<path d="M292.5,245.8 L292.5,377.8" stroke="#050505" stroke-width="1.6" fill="none"/>
<path d="M288.0,377.0 L292.5,377.0" stroke="#050505" stroke-width="1.5"/>
<path d="M288.0,350.8 L292.5,350.8" stroke="#050505" stroke-width="1.5"/>
<path d="M288.0,324.5 L292.5,324.5" stroke="#050505" stroke-width="1.5"/>
<path d="M288.0,298.3 L292.5,298.3" stroke="#050505" stroke-width="1.5"/>
<path d="M288.0,272.0 L292.5,272.0" stroke="#050505" stroke-width="1.5"/>
<path d="M288.0,245.8 L292.5,245.8" stroke="#050505" stroke-width="1.5"/>
<path d="M307.0,391.5 L480.3,391.5 M491.1,391.5 L510.3,391.5" stroke="#050505" stroke-width="1.6" fill="none"/>
<path d="M307.0,391.5 L307.0,395.5" stroke="#050505" stroke-width="1.5"/>
<path d="M356.7,391.5 L356.7,395.5" stroke="#050505" stroke-width="1.5"/>
<path d="M406.4,391.5 L406.4,395.5" stroke="#050505" stroke-width="1.5"/>
<path d="M456.1,391.5 L456.1,395.5" stroke="#050505" stroke-width="1.5"/>
<path d="M480.3,388.5 L480.3,394.5 M491.1,388.5 L491.1,394.5 M510.3,391.5 L510.3,395.5" stroke="#050505" stroke-width="1.5"/>
<text x="294.2" y="230.7" font-size="18.8" font-weight="bold" text-anchor="start" fill="#111" >D</text>
<text x="361.0" y="236.3" font-size="14" font-weight="bold" text-anchor="start" fill="#111" >FL</text>
<path d="M382.5,232.4 H394.1 M390.6,229.0 L394.9,232.4 L390.6,235.8" stroke="#111" stroke-width="1.7" fill="none"/>
<text x="399.1" y="236.3" font-size="14" font-weight="bold" text-anchor="start" fill="#111" >pERK</text>
<path d="M288.5,306.9 L295,313.9" stroke="#111" stroke-width="2.3"/>
<path d="M300.4,319.6 L297,309.6 L290.6,315.6 Z" fill="#111" stroke="#111" stroke-width="0.6" stroke-linejoin="round"/>
<clipPath id="cE"><rect x="0" y="436" width="238.8" height="156"/><rect x="246.9" y="436" width="100" height="156"/></clipPath>
<g clip-path="url(#cE)">
<path d="M64.0,579.1 L73.9,543.6 L83.9,514.8 L93.8,516.5 L150.0,545.5 L174.8,554.1 L213.1,569.4 L267.3,569.9 L267.3,577.1 L213.1,577.0 L174.8,568.2 L150.0,563.1 L93.8,540.8 L83.9,545.3 L73.9,564.6 L64.0,581.7 Z" fill="#e7e6fb" stroke="none"/>
<path d="M64.0,579.1 L73.9,543.6 L83.9,514.8 L93.8,516.5 L150.0,545.5 L174.8,554.1 L213.1,569.4 L267.3,569.9" fill="none" stroke="#6a6a80" stroke-width="1.0" stroke-dasharray="1.6,1.4" stroke-linejoin="round" />
<path d="M64.0,581.7 L73.9,564.6 L83.9,545.3 L93.8,540.8 L150.0,563.1 L174.8,568.2 L213.1,577.0 L267.3,577.1" fill="none" stroke="#6a6a80" stroke-width="1.0" stroke-dasharray="1.6,1.4" stroke-linejoin="round" />
<path d="M64.0,580.4 L73.9,554.1 L83.9,530.5 L93.8,528.9 L150.0,554.3 L174.8,561.2 L213.1,572.6 L267.3,573.2" fill="none" stroke="#5a5a70" stroke-width="1.0" stroke-linejoin="round" />
<path d="M64.0,580.0 L69.0,582.3 L73.9,582.0 L83.9,578.8 L93.8,574.1 L103.8,577.0 L113.7,581.2 L138.6,581.2 L163.4,581.7 L188.2,580.6 L213.1,582.7 L267.3,583.0" fill="none" stroke="#2b27c0" stroke-width="1.7" stroke-linejoin="round" />
<path d="M64.0,580.4 L69.0,569.9 L73.9,543.6 L83.9,465.4 L93.8,458.4 L113.7,459.7 L163.4,475.2 L213.1,515.4 L267.3,561.9" fill="none" stroke="#2b27c0" stroke-width="1.7" stroke-linejoin="round" />
<path d="M64.0,580.4 L69.0,572.5 L73.9,553.0 L93.8,457.0 L113.7,456.5 L163.4,466.4 L213.1,522.4" fill="none" stroke="#2b27c0" stroke-width="1.7" stroke-dasharray="4.5,2.5" stroke-linejoin="round" />
<path d="M64.0,570.5 L69.0,562.4 L73.9,506.4 L83.9,476.5 L93.8,473.1 L113.7,469.4 L213.1,483.9 L267.3,525.4" fill="none" stroke="#2b27c0" stroke-width="1.7" stroke-dasharray="4.6,2.3,1.7,2.3" stroke-linejoin="round" />
</g>
<rect x="60.9" y="576.9" width="6.2" height="6.2" fill="#f4f4ff" stroke="#4a48c8" stroke-width="1.0"/>
<rect x="63.2" y="579.2" width="1.6" height="1.6" fill="#4a48c8"/>
<rect x="65.9" y="579.2" width="6.2" height="6.2" fill="#f4f4ff" stroke="#4a48c8" stroke-width="1.0"/>
<rect x="68.2" y="581.5" width="1.6" height="1.6" fill="#4a48c8"/>
<rect x="70.8" y="578.9" width="6.2" height="6.2" fill="#f4f4ff" stroke="#4a48c8" stroke-width="1.0"/>
<rect x="73.1" y="581.2" width="1.6" height="1.6" fill="#4a48c8"/>
<rect x="80.8" y="575.7" width="6.2" height="6.2" fill="#f4f4ff" stroke="#4a48c8" stroke-width="1.0"/>
<rect x="83.1" y="578.0" width="1.6" height="1.6" fill="#4a48c8"/>
<rect x="90.7" y="571.0" width="6.2" height="6.2" fill="#f4f4ff" stroke="#4a48c8" stroke-width="1.0"/>
<rect x="93.0" y="573.3" width="1.6" height="1.6" fill="#4a48c8"/>
<rect x="100.7" y="573.9" width="6.2" height="6.2" fill="#f4f4ff" stroke="#4a48c8" stroke-width="1.0"/>
<rect x="103.0" y="576.2" width="1.6" height="1.6" fill="#4a48c8"/>
<rect x="110.6" y="578.1" width="6.2" height="6.2" fill="#f4f4ff" stroke="#4a48c8" stroke-width="1.0"/>
<rect x="112.9" y="580.4" width="1.6" height="1.6" fill="#4a48c8"/>
<rect x="135.5" y="578.1" width="6.2" height="6.2" fill="#f4f4ff" stroke="#4a48c8" stroke-width="1.0"/>
<rect x="137.8" y="580.4" width="1.6" height="1.6" fill="#4a48c8"/>
<rect x="160.3" y="578.6" width="6.2" height="6.2" fill="#f4f4ff" stroke="#4a48c8" stroke-width="1.0"/>
<rect x="162.6" y="580.9" width="1.6" height="1.6" fill="#4a48c8"/>
<rect x="185.2" y="577.5" width="6.2" height="6.2" fill="#f4f4ff" stroke="#4a48c8" stroke-width="1.0"/>
<rect x="187.4" y="579.8" width="1.6" height="1.6" fill="#4a48c8"/>
<rect x="210.0" y="579.6" width="6.2" height="6.2" fill="#f4f4ff" stroke="#4a48c8" stroke-width="1.0"/>
<rect x="212.3" y="581.9" width="1.6" height="1.6" fill="#4a48c8"/>
<rect x="264.2" y="579.9" width="6.2" height="6.2" fill="#f4f4ff" stroke="#4a48c8" stroke-width="1.0"/>
<rect x="266.5" y="582.2" width="1.6" height="1.6" fill="#4a48c8"/>
<rect x="70.8" y="540.5" width="6.2" height="6.2" fill="#f4f4ff" stroke="#4a48c8" stroke-width="1.0"/>
<path d="M70.8,540.5 L77.0,546.7 M77.0,540.5 L70.8,546.7" stroke="#4a48c8" stroke-width="0.8"/>
<rect x="80.8" y="462.3" width="6.2" height="6.2" fill="#f4f4ff" stroke="#4a48c8" stroke-width="1.0"/>
<path d="M80.8,462.3 L87.0,468.5 M87.0,462.3 L80.8,468.5" stroke="#4a48c8" stroke-width="0.8"/>
<rect x="110.6" y="456.6" width="6.2" height="6.2" fill="#f4f4ff" stroke="#4a48c8" stroke-width="1.0"/>
<path d="M110.6,456.6 L116.8,462.8 M116.8,456.6 L110.6,462.8" stroke="#4a48c8" stroke-width="0.8"/>
<rect x="160.3" y="472.1" width="6.2" height="6.2" fill="#f4f4ff" stroke="#4a48c8" stroke-width="1.0"/>
<path d="M160.3,472.1 L166.5,478.3 M166.5,472.1 L160.3,478.3" stroke="#4a48c8" stroke-width="0.8"/>
<rect x="210.0" y="512.3" width="6.2" height="6.2" fill="#f4f4ff" stroke="#4a48c8" stroke-width="1.0"/>
<path d="M210.0,512.3 L216.2,518.5 M216.2,512.3 L210.0,518.5" stroke="#4a48c8" stroke-width="0.8"/>
<rect x="264.2" y="558.8" width="6.2" height="6.2" fill="#f4f4ff" stroke="#4a48c8" stroke-width="1.0"/>
<path d="M264.2,558.8 L270.4,565.0 M270.4,558.8 L264.2,565.0" stroke="#4a48c8" stroke-width="0.8"/>
<path d="M73.9,549.1 L77.8,553.0 L73.9,556.8 L70.1,553.0 Z" fill="#f4f4ff" stroke="#4a48c8" stroke-width="1.0"/>
<rect x="73.2" y="552.2" width="1.5" height="1.5" fill="#4a48c8"/>
<path d="M93.8,453.2 L97.7,457.0 L93.8,460.9 L90.0,457.0 Z" fill="#f4f4ff" stroke="#4a48c8" stroke-width="1.0"/>
<rect x="93.1" y="456.3" width="1.5" height="1.5" fill="#4a48c8"/>
<path d="M113.7,452.7 L117.5,456.5 L113.7,460.4 L109.9,456.5 Z" fill="#f4f4ff" stroke="#4a48c8" stroke-width="1.0"/>
<rect x="112.9" y="455.8" width="1.5" height="1.5" fill="#4a48c8"/>
<path d="M163.4,462.5 L167.2,466.4 L163.4,470.2 L159.6,466.4 Z" fill="#f4f4ff" stroke="#4a48c8" stroke-width="1.0"/>
<rect x="162.6" y="465.6" width="1.5" height="1.5" fill="#4a48c8"/>
<path d="M213.1,518.5 L216.9,522.4 L213.1,526.2 L209.3,522.4 Z" fill="#f4f4ff" stroke="#4a48c8" stroke-width="1.0"/>
<rect x="212.3" y="521.6" width="1.5" height="1.5" fill="#4a48c8"/>
<rect x="60.9" y="567.4" width="6.2" height="6.2" fill="#f4f4ff" stroke="#4a48c8" stroke-width="1.0"/>
<rect x="65.9" y="559.3" width="6.2" height="6.2" fill="#f4f4ff" stroke="#4a48c8" stroke-width="1.0"/>
<rect x="70.8" y="503.3" width="6.2" height="6.2" fill="#f4f4ff" stroke="#4a48c8" stroke-width="1.0"/>
<rect x="80.8" y="473.4" width="6.2" height="6.2" fill="#f4f4ff" stroke="#4a48c8" stroke-width="1.0"/>
<rect x="90.7" y="470.0" width="6.2" height="6.2" fill="#f4f4ff" stroke="#4a48c8" stroke-width="1.0"/>
<rect x="110.6" y="466.3" width="6.2" height="6.2" fill="#f4f4ff" stroke="#4a48c8" stroke-width="1.0"/>
<rect x="210.0" y="480.8" width="6.2" height="6.2" fill="#f4f4ff" stroke="#4a48c8" stroke-width="1.0"/>
<rect x="264.2" y="522.3" width="6.2" height="6.2" fill="#f4f4ff" stroke="#4a48c8" stroke-width="1.0"/>
<path d="M50.0,451.8 L50.0,583.8" stroke="#050505" stroke-width="1.6" fill="none"/>
<path d="M45.5,583.0 L50.0,583.0" stroke="#050505" stroke-width="1.5"/>
<text x="44.8" y="587.3" font-size="10.6" font-weight="bold" text-anchor="end" fill="#111" >0</text>
<path d="M45.5,556.8 L50.0,556.8" stroke="#050505" stroke-width="1.5"/>
<text x="44.8" y="561.1" font-size="10.6" font-weight="bold" text-anchor="end" fill="#111" >20</text>
<path d="M45.5,530.5 L50.0,530.5" stroke="#050505" stroke-width="1.5"/>
<text x="44.8" y="534.8" font-size="10.6" font-weight="bold" text-anchor="end" fill="#111" >40</text>
<path d="M45.5,504.3 L50.0,504.3" stroke="#050505" stroke-width="1.5"/>
<text x="44.8" y="508.6" font-size="10.6" font-weight="bold" text-anchor="end" fill="#111" >60</text>
<path d="M45.5,478.0 L50.0,478.0" stroke="#050505" stroke-width="1.5"/>
<text x="44.8" y="482.3" font-size="10.6" font-weight="bold" text-anchor="end" fill="#111" >80</text>
<path d="M45.5,451.8 L50.0,451.8" stroke="#050505" stroke-width="1.5"/>
<text x="44.8" y="456.1" font-size="10.6" font-weight="bold" text-anchor="end" fill="#111" >100</text>
<path d="M64.0,597.5 L237.3,597.5 M248.1,597.5 L267.3,597.5" stroke="#050505" stroke-width="1.6" fill="none"/>
<path d="M64.0,597.5 L64.0,601.5" stroke="#050505" stroke-width="1.5"/>
<text x="64.6" y="613.5" font-size="10.6" font-weight="bold" text-anchor="middle" fill="#111" >0</text>
<path d="M113.7,597.5 L113.7,601.5" stroke="#050505" stroke-width="1.5"/>
<text x="114.3" y="613.5" font-size="10.6" font-weight="bold" text-anchor="middle" fill="#111" >10</text>
<path d="M163.4,597.5 L163.4,601.5" stroke="#050505" stroke-width="1.5"/>
<text x="164.0" y="613.5" font-size="10.6" font-weight="bold" text-anchor="middle" fill="#111" >20</text>
<path d="M213.1,597.5 L213.1,601.5" stroke="#050505" stroke-width="1.5"/>
<text x="213.7" y="613.5" font-size="10.6" font-weight="bold" text-anchor="middle" fill="#111" >30</text>
<path d="M237.3,594.5 L237.3,600.5 M248.1,594.5 L248.1,600.5 M267.3,597.5 L267.3,601.5" stroke="#050505" stroke-width="1.5"/>
<text x="52.5" y="436.3" font-size="18.8" font-weight="bold" text-anchor="start" fill="#111" >E</text>
<text x="108.8" y="443.1" font-size="14" font-weight="bold" text-anchor="start" fill="#111" >SCF</text>
<path d="M141.2,439.2 H152.8 M149.3,435.8 L153.6,439.2 L149.3,442.6" stroke="#111" stroke-width="1.7" fill="none"/>
<text x="157.8" y="443.1" font-size="14" font-weight="bold" text-anchor="start" fill="#111" >pS6</text>
<text x="13.8" y="517.5" font-size="12" font-weight="bold" text-anchor="middle" fill="#111" transform="rotate(-90 13.8 517.5)">Frequency</text>
<text x="152.8" y="631.0" font-size="11.6" font-weight="bold" text-anchor="middle" fill="#111" >Time, min</text>
<clipPath id="cF"><rect x="0" y="436" width="481.8" height="156"/><rect x="489.9" y="436" width="100" height="156"/></clipPath>
<g clip-path="url(#cF)">
<path d="M307.0,575.1 L316.9,565.9 L326.9,540.6 L336.8,530.4 L346.8,541.7 L356.7,543.6 L371.6,551.8 L406.4,561.7 L456.1,573.9 L510.3,573.9 L510.3,579.5 L456.1,579.5 L406.4,570.5 L371.6,564.1 L356.7,555.8 L346.8,558.1 L336.8,551.8 L326.9,555.8 L316.9,575.1 L307.0,580.4 Z" fill="#e7e6fb" stroke="none"/>
<path d="M307.0,575.1 L316.9,565.9 L326.9,540.6 L336.8,530.4 L346.8,541.7 L356.7,543.6 L371.6,551.8 L406.4,561.7 L456.1,573.9 L510.3,573.9" fill="none" stroke="#6a6a80" stroke-width="1.0" stroke-dasharray="1.6,1.4" stroke-linejoin="round" />
<path d="M307.0,580.4 L316.9,575.1 L326.9,555.8 L336.8,551.8 L346.8,558.1 L356.7,555.8 L371.6,564.1 L406.4,570.5 L456.1,579.5 L510.3,579.5" fill="none" stroke="#6a6a80" stroke-width="1.0" stroke-dasharray="1.6,1.4" stroke-linejoin="round" />
<path d="M307.0,577.8 L316.9,571.2 L326.9,547.8 L336.8,540.6 L346.8,549.8 L356.7,549.8 L371.6,560.0 L406.4,565.3 L456.1,577.0 L510.3,577.0" fill="none" stroke="#5a5a70" stroke-width="1.0" stroke-linejoin="round" />
<path d="M307.0,578.4 L312.0,576.3 L316.9,576.7 L326.9,537.6 L336.8,497.1 L346.8,491.2 L356.7,480.4 L406.4,529.5 L456.1,557.2 L510.3,573.6" fill="none" stroke="#2b27c0" stroke-width="1.7" stroke-linejoin="round" />
<path d="M307.0,571.2 L312.0,567.1 L316.9,564.1 L326.9,489.6 L336.8,490.2 L346.8,491.0 L356.7,501.8 L381.6,546.0 L406.4,567.3 L431.2,572.4 L456.1,580.6 L510.3,582.2" fill="none" stroke="#2b27c0" stroke-width="1.7" stroke-linejoin="round" />
<path d="M307.0,563.1 L312.0,556.9 L316.9,522.3 L326.9,482.4 L336.8,473.3 L356.7,469.8 L456.1,476.5 L510.3,500.6" fill="none" stroke="#2b27c0" stroke-width="1.7" stroke-dasharray="4.6,2.3,1.7,2.3" stroke-linejoin="round" />
</g>
<rect x="303.9" y="575.3" width="6.2" height="6.2" fill="#f4f4ff" stroke="#4a48c8" stroke-width="1.0"/>
<path d="M303.9,575.3 L310.1,581.5 M310.1,575.3 L303.9,581.5" stroke="#4a48c8" stroke-width="0.8"/>
<rect x="308.9" y="573.2" width="6.2" height="6.2" fill="#f4f4ff" stroke="#4a48c8" stroke-width="1.0"/>
<path d="M308.9,573.2 L315.1,579.4 M315.1,573.2 L308.9,579.4" stroke="#4a48c8" stroke-width="0.8"/>
<rect x="313.8" y="573.6" width="6.2" height="6.2" fill="#f4f4ff" stroke="#4a48c8" stroke-width="1.0"/>
<path d="M313.8,573.6 L320.0,579.8 M320.0,573.6 L313.8,579.8" stroke="#4a48c8" stroke-width="0.8"/>
<rect x="323.8" y="534.5" width="6.2" height="6.2" fill="#f4f4ff" stroke="#4a48c8" stroke-width="1.0"/>
<path d="M323.8,534.5 L330.0,540.7 M330.0,534.5 L323.8,540.7" stroke="#4a48c8" stroke-width="0.8"/>
<rect x="333.7" y="494.0" width="6.2" height="6.2" fill="#f4f4ff" stroke="#4a48c8" stroke-width="1.0"/>
<path d="M333.7,494.0 L339.9,500.2 M339.9,494.0 L333.7,500.2" stroke="#4a48c8" stroke-width="0.8"/>
<rect x="343.7" y="488.1" width="6.2" height="6.2" fill="#f4f4ff" stroke="#4a48c8" stroke-width="1.0"/>
<path d="M343.7,488.1 L349.9,494.3 M349.9,488.1 L343.7,494.3" stroke="#4a48c8" stroke-width="0.8"/>
<rect x="353.6" y="477.3" width="6.2" height="6.2" fill="#f4f4ff" stroke="#4a48c8" stroke-width="1.0"/>
<path d="M353.6,477.3 L359.8,483.5 M359.8,477.3 L353.6,483.5" stroke="#4a48c8" stroke-width="0.8"/>
<rect x="403.3" y="526.4" width="6.2" height="6.2" fill="#f4f4ff" stroke="#4a48c8" stroke-width="1.0"/>
<path d="M403.3,526.4 L409.5,532.6 M409.5,526.4 L403.3,532.6" stroke="#4a48c8" stroke-width="0.8"/>
<rect x="453.0" y="554.1" width="6.2" height="6.2" fill="#f4f4ff" stroke="#4a48c8" stroke-width="1.0"/>
<path d="M453.0,554.1 L459.2,560.3 M459.2,554.1 L453.0,560.3" stroke="#4a48c8" stroke-width="0.8"/>
<rect x="507.2" y="570.5" width="6.2" height="6.2" fill="#f4f4ff" stroke="#4a48c8" stroke-width="1.0"/>
<path d="M507.2,570.5 L513.4,576.7 M513.4,570.5 L507.2,576.7" stroke="#4a48c8" stroke-width="0.8"/>
<rect x="303.9" y="568.1" width="6.2" height="6.2" fill="#f4f4ff" stroke="#4a48c8" stroke-width="1.0"/>
<rect x="306.2" y="570.4" width="1.6" height="1.6" fill="#4a48c8"/>
<rect x="308.9" y="564.0" width="6.2" height="6.2" fill="#f4f4ff" stroke="#4a48c8" stroke-width="1.0"/>
<rect x="311.2" y="566.3" width="1.6" height="1.6" fill="#4a48c8"/>
<rect x="313.8" y="561.0" width="6.2" height="6.2" fill="#f4f4ff" stroke="#4a48c8" stroke-width="1.0"/>
<rect x="316.1" y="563.3" width="1.6" height="1.6" fill="#4a48c8"/>
<rect x="323.8" y="486.5" width="6.2" height="6.2" fill="#f4f4ff" stroke="#4a48c8" stroke-width="1.0"/>
<rect x="326.1" y="488.8" width="1.6" height="1.6" fill="#4a48c8"/>
<rect x="333.7" y="487.1" width="6.2" height="6.2" fill="#f4f4ff" stroke="#4a48c8" stroke-width="1.0"/>
<rect x="336.0" y="489.4" width="1.6" height="1.6" fill="#4a48c8"/>
<rect x="343.7" y="487.9" width="6.2" height="6.2" fill="#f4f4ff" stroke="#4a48c8" stroke-width="1.0"/>
<rect x="346.0" y="490.2" width="1.6" height="1.6" fill="#4a48c8"/>
<rect x="353.6" y="498.7" width="6.2" height="6.2" fill="#f4f4ff" stroke="#4a48c8" stroke-width="1.0"/>
<rect x="355.9" y="501.0" width="1.6" height="1.6" fill="#4a48c8"/>
<rect x="378.4" y="542.9" width="6.2" height="6.2" fill="#f4f4ff" stroke="#4a48c8" stroke-width="1.0"/>
<rect x="380.8" y="545.2" width="1.6" height="1.6" fill="#4a48c8"/>
<rect x="403.3" y="564.2" width="6.2" height="6.2" fill="#f4f4ff" stroke="#4a48c8" stroke-width="1.0"/>
<rect x="405.6" y="566.5" width="1.6" height="1.6" fill="#4a48c8"/>
<rect x="428.1" y="569.3" width="6.2" height="6.2" fill="#f4f4ff" stroke="#4a48c8" stroke-width="1.0"/>
<rect x="430.4" y="571.6" width="1.6" height="1.6" fill="#4a48c8"/>
<rect x="453.0" y="577.5" width="6.2" height="6.2" fill="#f4f4ff" stroke="#4a48c8" stroke-width="1.0"/>
<rect x="455.3" y="579.8" width="1.6" height="1.6" fill="#4a48c8"/>
<rect x="507.2" y="579.1" width="6.2" height="6.2" fill="#f4f4ff" stroke="#4a48c8" stroke-width="1.0"/>
<rect x="509.5" y="581.4" width="1.6" height="1.6" fill="#4a48c8"/>
<rect x="303.9" y="560.0" width="6.2" height="6.2" fill="#f4f4ff" stroke="#4a48c8" stroke-width="1.0"/>
<rect x="308.9" y="553.8" width="6.2" height="6.2" fill="#f4f4ff" stroke="#4a48c8" stroke-width="1.0"/>
<rect x="313.8" y="519.2" width="6.2" height="6.2" fill="#f4f4ff" stroke="#4a48c8" stroke-width="1.0"/>
<rect x="323.8" y="479.3" width="6.2" height="6.2" fill="#f4f4ff" stroke="#4a48c8" stroke-width="1.0"/>
<rect x="333.7" y="470.2" width="6.2" height="6.2" fill="#f4f4ff" stroke="#4a48c8" stroke-width="1.0"/>
<rect x="353.6" y="466.7" width="6.2" height="6.2" fill="#f4f4ff" stroke="#4a48c8" stroke-width="1.0"/>
<rect x="453.0" y="473.4" width="6.2" height="6.2" fill="#f4f4ff" stroke="#4a48c8" stroke-width="1.0"/>
<rect x="507.2" y="497.5" width="6.2" height="6.2" fill="#f4f4ff" stroke="#4a48c8" stroke-width="1.0"/>
<path d="M292.5,451.8 L292.5,583.8" stroke="#050505" stroke-width="1.6" fill="none"/>
<path d="M288.0,583.0 L292.5,583.0" stroke="#050505" stroke-width="1.5"/>
<path d="M288.0,556.8 L292.5,556.8" stroke="#050505" stroke-width="1.5"/>
<path d="M288.0,530.5 L292.5,530.5" stroke="#050505" stroke-width="1.5"/>
<path d="M288.0,504.3 L292.5,504.3" stroke="#050505" stroke-width="1.5"/>
<path d="M288.0,478.0 L292.5,478.0" stroke="#050505" stroke-width="1.5"/>
<path d="M288.0,451.8 L292.5,451.8" stroke="#050505" stroke-width="1.5"/>
<path d="M307.0,597.5 L480.3,597.5 M491.1,597.5 L510.3,597.5" stroke="#050505" stroke-width="1.6" fill="none"/>
<path d="M307.0,597.5 L307.0,601.5" stroke="#050505" stroke-width="1.5"/>
<text x="307.6" y="613.5" font-size="10.6" font-weight="bold" text-anchor="middle" fill="#111" >0</text>
<path d="M356.7,597.5 L356.7,601.5" stroke="#050505" stroke-width="1.5"/>
<text x="357.3" y="613.5" font-size="10.6" font-weight="bold" text-anchor="middle" fill="#111" >10</text>
<path d="M406.4,597.5 L406.4,601.5" stroke="#050505" stroke-width="1.5"/>
<text x="407.0" y="613.5" font-size="10.6" font-weight="bold" text-anchor="middle" fill="#111" >20</text>
<path d="M456.1,597.5 L456.1,601.5" stroke="#050505" stroke-width="1.5"/>
<text x="456.7" y="613.5" font-size="10.6" font-weight="bold" text-anchor="middle" fill="#111" >30</text>
<path d="M480.3,594.5 L480.3,600.5 M491.1,594.5 L491.1,600.5 M510.3,597.5 L510.3,601.5" stroke="#050505" stroke-width="1.5"/>
<text x="293.0" y="436.5" font-size="18.8" font-weight="bold" text-anchor="start" fill="#111" >F</text>
<text x="362.8" y="443.1" font-size="14" font-weight="bold" text-anchor="start" fill="#111" >FL</text>
<path d="M384.3,439.2 H395.9 M392.4,435.8 L396.7,439.2 L392.4,442.6" stroke="#111" stroke-width="1.7" fill="none"/>
<text x="400.9" y="443.1" font-size="14" font-weight="bold" text-anchor="start" fill="#111" >pS6</text>
<text x="395.8" y="631.0" font-size="11.6" font-weight="bold" text-anchor="middle" fill="#111" >Time, min</text>
</svg></body></html>
